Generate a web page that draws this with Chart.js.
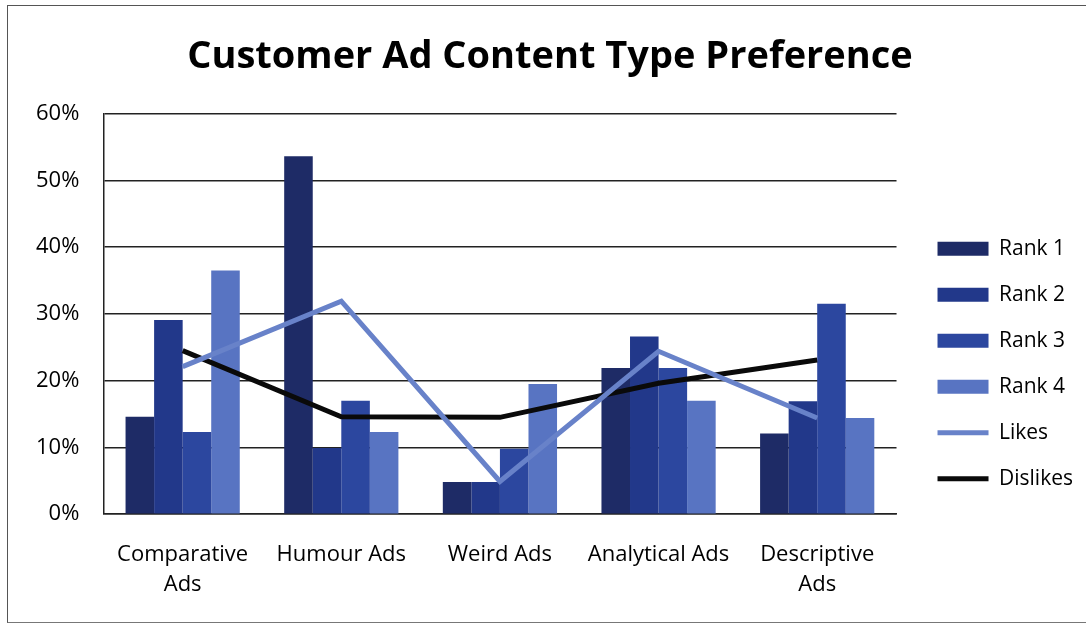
<!DOCTYPE html>
<html>
<head>
<meta charset="utf-8">
<script src="https://cdn.jsdelivr.net/npm/chart.js@4"></script>
<style>
  body { margin: 0; background: #fff; }
  #wrap { position: relative; width: 1086px; height: 625px; }
  #frame { position: absolute; left: 7px; top: 5px; width: 1090px; height: 616px;
           border-left: 1.5px solid #555; border-top: 1.5px solid #555; border-bottom: 1.5px solid #777; }
</style>
</head>
<body>
<div id="wrap">
  <div id="frame"></div>
  <canvas id="myChart"></canvas>
</div>
<script>
var categories = [["Comparative", "Ads"], "Humour Ads", "Weird Ads", "Analytical Ads", ["Descriptive", "Ads"]];
var rank1 = [14.6, 53.6, 4.8, 21.9, 12.1];
var rank2 = [29.1, 9.9, 4.8, 26.6, 16.9];
var rank3 = [12.3, 17.0, 9.8, 21.9, 31.5];
var rank4 = [36.5, 12.3, 19.5, 17.0, 14.4];
var likes = [22.1, 31.9, 4.9, 24.4, 14.4];
var dislikes = [24.5, 14.6, 14.5, 19.6, 23.1];
var yTicks = [0, 10, 20, 30, 40, 50, 60];

var font = "'Open Sans', 'DejaVu Sans', sans-serif";

new Chart("myChart", {
  type: "bar",
  data: {
    labels: categories,
    datasets: [
      { label: "Rank 1", data: rank1, backgroundColor: "#1e2b66", order: 1 },
      { label: "Rank 2", data: rank2, backgroundColor: "#22388a", order: 1 },
      { label: "Rank 3", data: rank3, backgroundColor: "#2c479f", order: 1 },
      { label: "Rank 4", data: rank4, backgroundColor: "#5874c2", order: 1 },
      { type: "line", label: "Likes", data: likes, borderColor: "#6882c9",
        borderWidth: 5, pointRadius: 0, fill: false, order: 0 },
      { type: "line", label: "Dislikes", data: dislikes, borderColor: "#0a0a0a",
        borderWidth: 5, pointRadius: 0, fill: false, order: 0 }
    ]
  },
  options: {
    responsive: true,
    maintainAspectRatio: false,
    animation: false,
    datasets: { bar: { categoryPercentage: 0.72, barPercentage: 1.0 } },
    layout: { padding: { left: 17, right: 3, top: 0, bottom: 25 } },
    plugins: {
      title: {
        display: true,
        text: "Customer Ad Content Type Preference",
        color: "#000",
        font: { family: font, size: 38, weight: "bold" },
        padding: { top: 34, bottom: 34 }
      },
      legend: {
        display: true,
        position: "right",
        align: "end",
        fullSize: false,
        labels: {
          color: "#000",
          font: { family: font, size: 21 },
          usePointStyle: true,
          pointStyleWidth: 51,
          boxHeight: 14,
          padding: 25,
          sort: function (a, b) { return a.datasetIndex - b.datasetIndex; },
          generateLabels: function (chart) {
            var items = Chart.defaults.plugins.legend.labels.generateLabels(chart);
            items.forEach(function (it) {
              var ds = chart.data.datasets[it.datasetIndex];
              if (ds.type === "line") {
                it.pointStyle = "line";
                it.strokeStyle = ds.borderColor;
                it.lineWidth = 5;
              } else {
                it.pointStyle = "rect";
                it.lineWidth = 0;
              }
            });
            return items;
          }
        }
      },
      tooltip: { enabled: false }
    },
    scales: {
      x: {
        grid: { display: false, drawTicks: true, tickLength: 26 },
        border: { display: true, color: "#222", width: 1.5 },
        ticks: { color: "#000", font: { family: font, size: 22, lineHeight: 1.36 }, padding: 0,
                 maxRotation: 0, autoSkip: false }
      },
      y: {
        min: 0,
        max: 60,
        afterBuildTicks: function (axis) {
          axis.ticks = yTicks.map(function (v) { return { value: v }; });
        },
        grid: { color: "#222", lineWidth: 1.5, drawTicks: true, tickLength: 5, tickColor: "rgba(0,0,0,0)" },
        border: { display: true, color: "#222", width: 1.5 },
        ticks: { color: "#000", font: { family: font, size: 22 }, padding: 19,
                 callback: function (v) { return v + "%"; } }
      },
      // empty strip between the plot and the legend
      gap: {
        type: "linear",
        position: "right",
        display: true,
        grid: { display: false, drawTicks: false },
        border: { display: false },
        ticks: { display: false },
        afterFit: function (axis) { axis.width = 16; }
      }
    }
  }
});
</script>
</body>
</html>
